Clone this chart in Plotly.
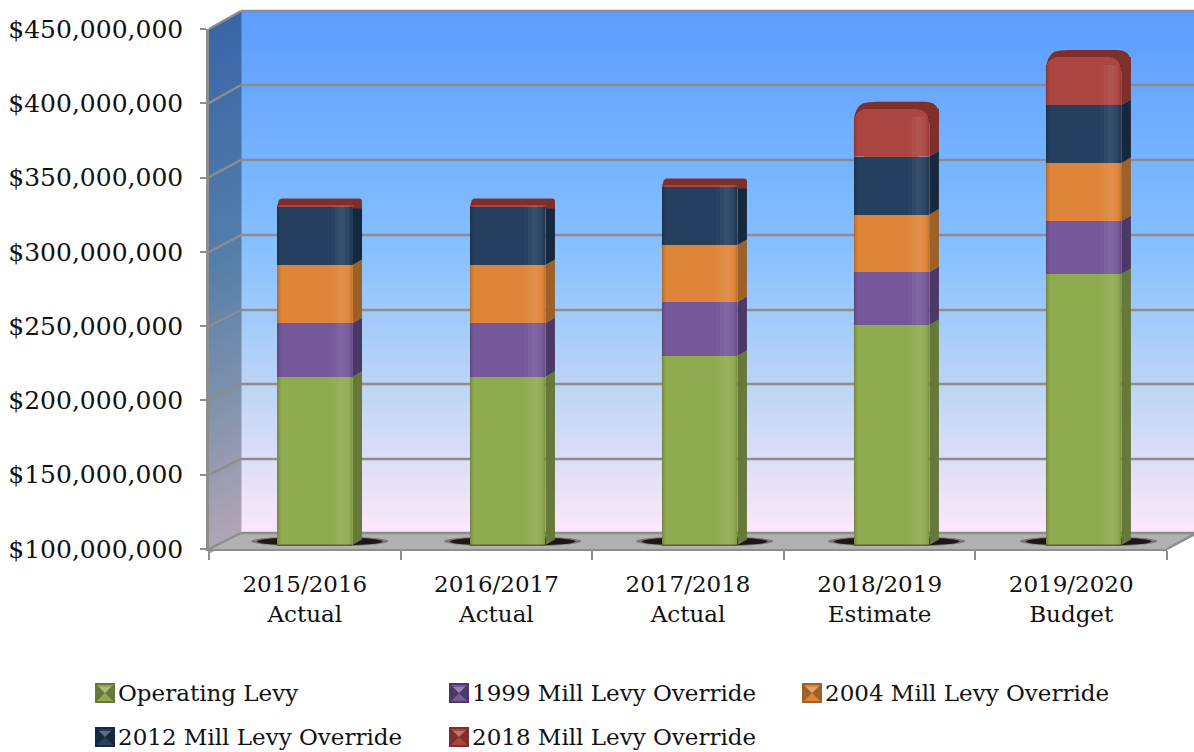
import plotly.graph_objects as go

CATEGORIES = ["2015/2016<br>Actual", "2016/2017<br>Actual", "2017/2018<br>Actual", "2018/2019<br>Estimate", "2019/2020<br>Budget"]
BAR_POS = [0.552, 1.559, 2.561, 3.563, 4.565]
OPERATING = [215.8e6, 215.8e6, 229.9e6, 250.8e6, 285.1e6]
MLO_1999 = [36.3e6, 36.3e6, 36.4e6, 35.6e6, 35.7e6]
MLO_2004 = [39.1e6, 39.1e6, 38.3e6, 38.7e6, 39.0e6]
MLO_2012 = [39.0e6, 39.0e6, 39.1e6, 39.0e6, 39.0e6]
MLO_2018 = [1.0e6, 1.0e6, 1.0e6, 32.3e6, 32.4e6]
SERIES = [("Operating Levy", OPERATING, "#8fab50", "#66793a"),
          ("1999 Mill Levy Override", MLO_1999, "#75589a", "#4b3866"),
          ("2004 Mill Levy Override", MLO_2004, "#de853a", "#9c6128"),
          ("2012 Mill Levy Override", MLO_2012, "#25405f", "#15283e"),
          ("2018 Mill Levy Override", MLO_2018, "#ab4541", "#7e2e2b")]
YTICKS = [100e6, 150e6, 200e6, 250e6, 300e6, 350e6, 400e6, 450e6]
GRID_BACK_PX = [533, 459, 384, 310, 235, 160, 85, 11]
GRID_FRONT_PX = [549, 475, 400, 326, 252, 177, 103, 29]

L, R, T, B = 209, 1167, 29, 549
W, H = 1194, 752
FONT = "DejaVu Serif"
GRID = "#8d8d8d"
PX_X = 5 / (R - L)
PX_Y = 350e6 / (B - T)
BAR_W = 75.5 * PX_X
DX, DY = 9.5 * PX_X, 5.5 * PX_Y
CAP = 7 * PX_Y
BASE = 102.7e6


def px(x):
    return (x - L) / (R - L)


def py(y):
    return (B - y) / (B - T)


def ppath(points):
    return "M" + "L".join(f"{px(x):.5f},{py(y):.5f}" for x, y in points) + "Z"


def mix(stops, t):
    for (a, ca), (b, cb) in zip(stops, stops[1:]):
        if t <= b:
            f = (t - a) / (b - a)
            return "rgb(%d,%d,%d)" % tuple(round(u + (v - u) * f) for u, v in zip(ca, cb))
    return "rgb(%d,%d,%d)" % stops[-1][1]


BACK_STOPS = [(0, (92, 157, 255)), (0.45, (134, 192, 255)), (0.72, (190, 213, 245)), (1, (252, 232, 250))]
SIDE_STOPS = [(0, (58, 102, 168)), (0.45, (84, 126, 170)), (0.72, (128, 146, 172)), (1, (178, 166, 182))]

shapes = []
def add(**k):
    k.setdefault("layer", "below")
    k.setdefault("line", dict(width=0))
    shapes.append(k)

STEP = 4
for y in range(11, 533, STEP):
    t = (y - 11) / 522
    add(type="path", xref="paper", yref="paper", path=ppath([(241, y), (1200, y), (1200, y + STEP + 1), (241, y + STEP + 1)]),
        fillcolor=mix(BACK_STOPS, t))
    add(type="path", xref="paper", yref="paper", path=ppath([(209, y + 18), (241.5, y), (241.5, y + STEP + 1), (209, y + 18 + STEP + 1)]),
        fillcolor=mix(SIDE_STOPS, t))
# floor
add(type="path", xref="paper", yref="paper", path=ppath([(209, 549), (241, 533), (1200, 533), (1167, 549)]), fillcolor="#b1b1b1")
# wall gridlines
for back, front in zip(GRID_BACK_PX, GRID_FRONT_PX):
    add(type="line", xref="paper", yref="paper", x0=px(241), x1=px(1200), y0=py(back), y1=py(back), line=dict(color=GRID, width=2.5))
    add(type="line", xref="paper", yref="paper", x0=px(209), x1=px(241), y0=py(front), y1=py(back), line=dict(color=GRID, width=2.5))
add(type="line", xref="paper", yref="paper", x0=px(1167), x1=px(1200), y0=py(549), y1=py(531), line=dict(color=GRID, width=2.5))

# shadows, side faces and caps built from the data arrays
for i, c in enumerate(BAR_POS):
    xl, xr = c - BAR_W / 2, c + BAR_W / 2
    add(type="circle", xref="x", yref="y", x0=xl - 26 * PX_X, x1=xr + 36 * PX_X, y0=BASE - 1.0e6, y1=BASE + 6e6,
        fillcolor="rgba(50,45,45,.45)")
    add(type="circle", xref="x", yref="y", x0=xl - 20 * PX_X, x1=xr + 30 * PX_X, y0=BASE - .6e6, y1=BASE + 5.4e6,
        fillcolor="#1d1817")
    top = BASE
    big = MLO_2018[i] > 5e6
    r = 14 if big else 3
    rx, ry = r * PX_X, r * PX_Y
    for j, (name, vals, col, side) in enumerate(SERIES):
        lo = max(sum(s[1][i] for s in SERIES[:j]), BASE)
        hi = sum(s[1][i] for s in SERIES[:j + 1])
        rise = 0 if j == len(SERIES) - 1 else DY
        add(type="path", xref="x", yref="y", fillcolor=side,
            path=f"M{xr},{lo}L{xr+DX},{lo+DY}L{xr+DX},{hi+rise}L{xr},{hi}Z")
        top = hi
    red = SERIES[4][3]
    ytop = top + CAP
    add(type="path", xref="x", yref="y", fillcolor=red,
        path=(f"M{xl},{top - ry}Q{xl},{top} {xl + rx * .6},{top + CAP * .75}Q{xl + rx},{ytop} {xl + rx * 1.6},{ytop}"
              f"L{xr + DX - rx},{ytop}Q{xr + DX},{ytop} {xr + DX},{ytop - ry}L{xr + DX},{top - ry}L{xr},{top - ry}Z"))
    # square off the lower corners of the rounded top segment
    lo = top - MLO_2018[i]
    add(type="rect", xref="x", yref="y", x0=xl, x1=xr, y0=lo, y1=lo + MLO_2018[i] * .5, fillcolor=SERIES[4][2])

# front-face shading strips and floor cover
for i, c in enumerate(BAR_POS):
    xl, xr = c - BAR_W / 2, c + BAR_W / 2
    top = sum(s[1][i] for s in SERIES)
    m = 8 * PX_Y if MLO_2018[i] > 5e6 else 0
    for a, b, colr in [(0, 1.5, "rgba(0,0,0,.18)"), (1.5, 3.5, "rgba(0,0,0,.07)"), (54, 58, "rgba(255,255,255,.02)"),
                       (58, 62, "rgba(255,255,255,.05)"), (62, 68, "rgba(255,255,255,.08)"), (68, 72, "rgba(255,255,255,.04)"),
                       (73.5, 75.5, "rgba(0,0,0,.1)")]:
        add(type="rect", xref="x", yref="y", layer="above", x0=xl + a * PX_X, x1=xl + b * PX_X, y0=100e6, y1=top - m, fillcolor=colr)
    add(type="rect", xref="x", yref="y", layer="above", x0=xl - 1 * PX_X, x1=xr + 1 * PX_X, y0=100e6, y1=BASE - .6e6, fillcolor="#b1b1b1")
    add(type="rect", xref="x", yref="y", layer="above", x0=xl, x1=xr, y0=BASE - .6e6, y1=BASE + .4e6, fillcolor="rgba(90,60,30,.7)")

fig = go.Figure()
running = [0.0] * len(BAR_POS)
for name, vals, col, side in SERIES:
    fig.add_trace(go.Bar(name=name, x=BAR_POS, y=vals, base=list(running), width=BAR_W, showlegend=False,
                         marker=dict(color=col, line=dict(width=0), cornerradius=13 if name.startswith("2018") else 0)))
    running = [a + b for a, b in zip(running, vals)]

# legend keys and labels
LEG_POS = [(95, 693), (449, 693), (802, 693), (95, 737), (449, 737)]
annotations = []
for (x, y), (name, vals, col, side) in zip(LEG_POS, SERIES):
    x0, x1, y0, y1, cx, cy = x, x + 20, y - 10, y + 10, x + 10, y
    i0, i1, j0, j1 = x0 + 4, x1 - 4, y0 + 4, y1 - 4
    add(type="path", xref="paper", yref="paper", layer="above", path=ppath([(x0, y0), (x1, y0), (x1, y1), (x0, y1)]), fillcolor=side)
    add(type="path", xref="paper", yref="paper", layer="above", path=ppath([(x0 + 2, y0 + 2), (x1 - 2, y0 + 2), (cx, cy)]), fillcolor=col)
    add(type="path", xref="paper", yref="paper", layer="above", path=ppath([(x0 + 2, y1 - 2), (x1 - 2, y1 - 2), (cx, cy)]), fillcolor=col)
    add(type="path", xref="paper", yref="paper", layer="above", path=ppath([(cx, cy), (i0, j0), (i1, j0)]), fillcolor="rgba(255,255,255,.25)")
    annotations.append(dict(xref="paper", yref="paper", x=px(x + 21), y=py(y), text=name, showarrow=False,
                            xanchor="left", yanchor="middle", font=dict(family=FONT, size=23, color="#111")))

fig.update_layout(
    width=W, height=H, barmode="overlay", bargap=0,
    margin=dict(l=L, r=W - R, t=T, b=H - B, autoexpand=False),
    paper_bgcolor="white", plot_bgcolor="rgba(0,0,0,0)", showlegend=False,
    font=dict(family=FONT, size=23, color="#111"),
    shapes=shapes, annotations=annotations,
    xaxis=dict(range=[0, 5], tickmode="array", tickvals=[i + .5 for i in range(5)], ticktext=CATEGORIES,
               ticks="", showgrid=False, zeroline=False, showline=True, linecolor=GRID, linewidth=2, ticklabelstandoff=13,
               minor=dict(tickmode="array", tickvals=list(range(6)), ticks="outside", ticklen=9, tickcolor=GRID, tickwidth=2, showgrid=False)),
    yaxis=dict(range=[100e6, 450e6], tickmode="array", tickvals=YTICKS, tickformat="$,.0f", ticks="outside", ticklen=6,
               tickcolor=GRID, tickwidth=2, showgrid=False, zeroline=False, showline=True, linecolor=GRID, linewidth=2.5,
               ticklabelstandoff=12, tickfont=dict(family=FONT, size=25, color="#111")),
)
fig.write_html("out.html", config={"displayModeBar": False},
               post_script="document.body.style.margin='0';document.body.style.overflow='hidden';")
